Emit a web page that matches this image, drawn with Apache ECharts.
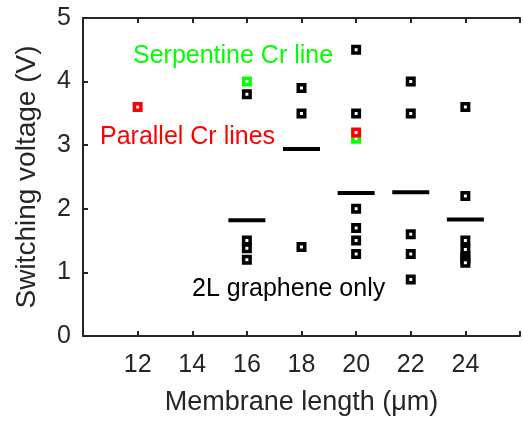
<!DOCTYPE html>
<html><head><meta charset="utf-8">
<script src="https://cdn.jsdelivr.net/npm/echarts@6/dist/echarts.min.js"></script>
<style>html,body{margin:0;padding:0;background:#fff;}#c{width:523px;height:421px;}</style>
</head><body><div id="c"></div>
<script>
// Data
const grapheneOnly = [
  [16, 3.8], [16, 1.5], [16, 1.38], [16, 1.2],
  [18, 3.9], [18, 3.5], [18, 1.4],
  [20, 4.5], [20, 3.5], [20, 2.0], [20, 1.7], [20, 1.5], [20, 1.29],
  [22, 4.0], [22, 3.5], [22, 1.6], [22, 1.29], [22, 0.89],
  [24, 3.6], [24, 2.2], [24, 1.5], [24, 1.36], [24, 1.25], [24, 1.2], [24, 1.15]
];
const serpentine = [[16, 4.0], [20, 3.1]];
const parallel = [[12, 3.6], [20, 3.2]];
const means = [[16, 1.82], [18, 2.94], [20, 2.25], [22, 2.26], [24, 1.83]];
const xTicks = [12, 14, 16, 18, 20, 22, 24];
const yTicks = [0, 1, 2, 3, 4, 5];

const FONT = 'Liberation Sans';
const TXT = '#262626';
const chart = echarts.init(document.getElementById('c'));
const axisLine = {show: true, lineStyle: {color: TXT, width: 2}};
const mk = c => ({color: '#fff', borderColor: c, borderWidth: 3.5, opacity: 1});
chart.setOption({
  animation: false,
  grid: {left: 83, top: 18, width: 448, height: 321},
  xAxis: [{
    type: 'value', min: 10, max: 26, interval: 2, position: 'bottom',
    axisLine: axisLine,
    axisTick: {show: true, inside: true, length: 5, lineStyle: {color: TXT, width: 2}},
    splitLine: {show: false},
    axisLabel: {fontFamily: FONT, fontSize: 25, color: TXT, margin: 17,
      formatter: v => xTicks.includes(v) ? String(v) : ''},
    name: 'Membrane length (μm)', nameLocation: 'middle', nameGap: 53,
    nameTextStyle: {fontFamily: FONT, fontSize: 27, color: TXT}
  }, {
    type: 'value', min: 10, max: 26, interval: 2, position: 'top',
    axisLine: axisLine,
    axisTick: {show: true, inside: true, length: 5, lineStyle: {color: TXT, width: 2}},
    axisLabel: {show: false}, splitLine: {show: false}
  }],
  yAxis: [{
    type: 'value', min: 0, max: 5, interval: 1, position: 'left',
    axisLine: axisLine,
    axisTick: {show: true, inside: true, length: 5, lineStyle: {color: TXT, width: 2}},
    splitLine: {show: false},
    axisLabel: {fontFamily: FONT, fontSize: 25, color: TXT, margin: 12,
      formatter: v => yTicks.includes(v) ? String(v) : ''},
    name: 'Switching voltage (V)', nameLocation: 'middle', nameGap: 42,
    nameTextStyle: {fontFamily: FONT, fontSize: 28, color: TXT}
  }],
  series: [
    {type: 'scatter', data: means, symbol: 'rect', symbolSize: [37, 4],
      itemStyle: {color: '#000', opacity: 1}, z: 2},
    {type: 'scatter', data: grapheneOnly, symbol: 'rect', symbolSize: 6.5,
      itemStyle: mk('#000'), z: 3},
    {type: 'scatter', data: serpentine, symbol: 'rect', symbolSize: 6.5,
      itemStyle: mk('#00ff00'), z: 4},
    {type: 'scatter', data: parallel, symbol: 'rect', symbolSize: 6.5,
      itemStyle: mk('#ff0000'), z: 5}
  ],
  graphic: [
    {type: 'text', left: 133, top: 44, style: {text: 'Serpentine Cr line', fill: '#00ff00', font: '25px "Liberation Sans"'}},
    {type: 'text', left: 100, top: 125, style: {text: 'Parallel Cr lines', fill: '#ff0000', font: '25px "Liberation Sans"'}},
    {type: 'text', left: 192, top: 277, style: {text: '2L graphene only', fill: '#000', font: '25px "Liberation Sans"'}}
  ]
});
</script></body></html>
